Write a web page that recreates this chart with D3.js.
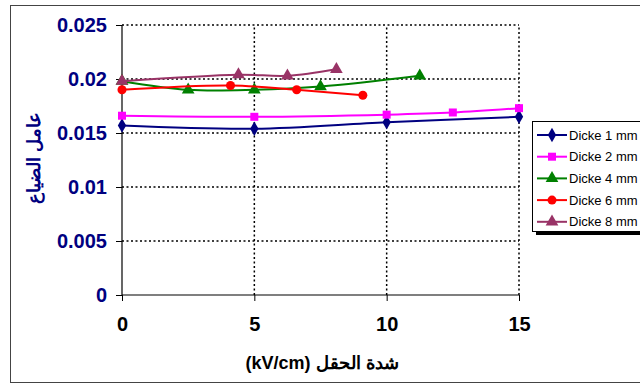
<!DOCTYPE html>
<html>
<head>
<meta charset="utf-8">
<script src="https://cdn.jsdelivr.net/npm/d3@7"></script>
<style>
  html, body { margin: 0; padding: 0; background: #fff; overflow: hidden; }
  svg { display: block; font-family: "Liberation Sans", Arial, sans-serif; }
</style>
</head>
<body>
<svg id="chart" width="640" height="385"></svg>
<script>
// Dissipation factor vs. field strength for several sample thicknesses
const seriesNames = ["Dicke 1 mm", "Dicke 2 mm", "Dicke 4 mm", "Dicke 6 mm", "Dicke 8 mm"];
const fieldD1 = [0, 5, 10, 15];
const lossD1 = [0.0157, 0.0154, 0.0160, 0.0165];
const fieldD2 = [0, 5, 10, 12.5, 15];
const lossD2 = [0.0166, 0.0165, 0.0167, 0.0169, 0.0173];
const fieldD4 = [0, 2.5, 5, 7.5, 11.25];
const lossD4 = [0.0198, 0.0190, 0.0190, 0.0193, 0.0203];
const fieldD6 = [0, 4.1, 6.6, 9.1];
const lossD6 = [0.0190, 0.0194, 0.0190, 0.0185];
const fieldD8 = [0, 4.4, 6.25, 8.1];
const lossD8 = [0.0198, 0.0204, 0.0203, 0.0209];
const xTicks = [0, 5, 10, 15];
const yTicks = [0, 0.005, 0.01, 0.015, 0.02, 0.025];
const yTickLabels = ["0", "0.005", "0.01", "0.015", "0.02", "0.025"];

const colors = ["#000080", "#FF00FF", "#008000", "#FF0000", "#993366"];
const symbols = [d3.symbolDiamond, d3.symbolSquare, d3.symbolTriangle, d3.symbolCircle, d3.symbolTriangle];
const symSizes = [60, 64, 70, 64, 70];

const fields = [fieldD1, fieldD2, fieldD4, fieldD6, fieldD8];
const losses = [lossD1, lossD2, lossD4, lossD6, lossD8];
const series = seriesNames.map((name, i) => ({
  name, color: colors[i], symbol: symbols[i], size: symSizes[i],
  points: fields[i].map((x, j) => ({ x, y: losses[i][j] }))
}));

const svg = d3.select("#chart");
const font = "Liberation Sans, Arial, sans-serif";

// outer chart frame
svg.append("rect").attr("x", 10.5).attr("y", 5.5).attr("width", 640).attr("height", 377)
  .attr("fill", "#fff").attr("stroke", "#444").attr("stroke-width", 1);

const x = d3.scaleLinear().domain([0, 15]).range([122, 519]);
const y = d3.scaleLinear().domain([0, 0.025]).range([295, 25]);

// dotted grid
const grid = svg.append("g").attr("stroke", "#000").attr("stroke-width", 1.5)
  .attr("stroke-dasharray", "2,2.5").attr("fill", "none");
grid.selectAll("line.h").data(yTicks.filter(v => v > 0)).join("line")
  .attr("x1", x(0)).attr("x2", x(15)).attr("y1", d => y(d)).attr("y2", d => y(d));
grid.selectAll("line.v").data(xTicks.filter(v => v > 0)).join("line")
  .attr("x1", d => x(d)).attr("x2", d => x(d)).attr("y1", y(0)).attr("y2", y(0.025));

// axes
const yAxis = d3.axisLeft(y).tickValues(yTicks).tickSize(6).tickPadding(9)
  .tickFormat((d, i) => yTickLabels[i]);
const gy = svg.append("g").attr("transform", `translate(${x(0)},0)`).call(yAxis);
gy.select(".domain").attr("stroke", "#000").attr("stroke-width", 1.2).attr("d", `M0,${y(0)}V${y(0.025)}`);
gy.selectAll(".tick line").attr("stroke", "#000");
gy.selectAll(".tick text").attr("fill", "#000080").attr("font-size", 20).attr("font-weight", "bold")
  .attr("font-family", font);

const xAxis = d3.axisBottom(x).tickValues(xTicks).tickSize(6).tickPadding(16).tickFormat(d3.format("d"));
const gx = svg.append("g").attr("transform", `translate(0,${y(0)})`).call(xAxis);
gx.select(".domain").attr("stroke", "#000").attr("stroke-width", 1.2).attr("d", `M${x(0)},0H${x(15)}`);
gx.selectAll(".tick line").attr("stroke", "#000");
gx.selectAll(".tick text").attr("fill", "#000").attr("font-size", 20).attr("font-weight", "bold")
  .attr("font-family", font);

// axis titles
svg.append("text").attr("x", 322).attr("y", 369).attr("text-anchor", "middle")
  .attr("font-size", 18).attr("font-weight", "bold").attr("fill", "#000").attr("font-family", font)
  .text("(kV/cm) شدة الحقل");
svg.append("text").attr("transform", `translate(40,158) rotate(-90)`).attr("text-anchor", "middle")
  .attr("font-size", 18).attr("font-weight", "bold").attr("fill", "#000080").attr("font-family", font)
  .text("عامل الضياع");

// series lines and markers
const line = d3.line().x(d => x(d.x)).y(d => y(d.y)).curve(d3.curveCatmullRom.alpha(0.5));
const sg = svg.append("g").selectAll("g").data(series).join("g");
sg.append("path").attr("d", d => line(d.points)).attr("fill", "none")
  .attr("stroke", d => d.color).attr("stroke-width", 2);
sg.each(function (s) {
  d3.select(this).selectAll("path.m").data(s.points).join("path").attr("class", "m")
    .attr("transform", p => `translate(${x(p.x)},${y(p.y)})`)
    .attr("d", d3.symbol().type(s.symbol).size(s.size)).attr("fill", s.color);
});

// legend with shadow
const lg = svg.append("g").attr("transform", "translate(532,121)");
lg.append("rect").attr("x", 4).attr("y", 4).attr("width", 130).attr("height", 110).attr("fill", "#000");
lg.append("rect").attr("x", 0.5).attr("y", 0.5).attr("width", 130).attr("height", 110)
  .attr("fill", "#fff").attr("stroke", "#000").attr("stroke-width", 1);
const items = lg.selectAll("g.item").data(series).join("g").attr("class", "item")
  .attr("transform", (d, i) => `translate(0,${14 + i * 21.7})`);
items.append("line").attr("x1", 5).attr("x2", 35).attr("stroke", d => d.color).attr("stroke-width", 2);
items.append("path").attr("transform", "translate(20,0)")
  .attr("d", d => d3.symbol().type(d.symbol).size(d.size)()).attr("fill", d => d.color);
items.append("text").attr("x", 37).attr("dy", "0.36em").attr("font-size", 13).attr("fill", "#000")
  .attr("font-family", font).text(d => d.name);
</script>
</body>
</html>
